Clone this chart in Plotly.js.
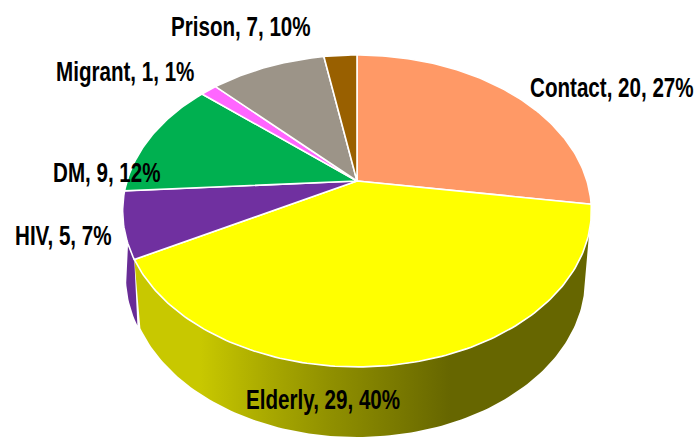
<!DOCTYPE html>
<html><head><meta charset="utf-8">
<script src="https://cdn.plot.ly/plotly-3.0.1.min.js"></script>
<style>html,body{margin:0;padding:0;background:#fff}#c{width:698px;height:438px}</style>
</head><body><div id="c"></div>
<script>
// Data (clockwise from 12 o'clock)
const categories = ["Contact","Elderly","HIV","DM","Migrant","Prison","Other"];
const values = [20,29,5,9,1,7,2];
// Styles
const colors = ["#FF9966","#FFFF00","#7030A0","#00B050","#FF66FF","#9C9488","#996000"];
const purpleWall = "#682C96";
const labelX = [612,323,63,107,125,241,null];
const labelY = [87,399,235,172,71,26,null];
const shadeX = [130,200,270,330,400,450,700];
const shadeV = [200,200,168,144,120,102,102];
// Perspective geometry of the disc
const CX=357, K=0.192;
const TOP={y:181,a:230,b:150.2,cx:CX}, BOT={y:248.6,a:223.7,b:152.2,cx:CX}, BOTL={y:247,a:223.7,b:150.2,cx:CX-3};
const deg=Math.PI/180;
function proj(t,g){const X=Math.sin(t),Y=-Math.cos(t),d=1-K*Y;return [g.cx+g.a*X/d,g.y+g.b*Y/d];}
function arc(t0,t1,g,n){const p=[];for(let i=0;i<=n;i++)p.push(proj(t0+(t1-t0)*i/n,g));return p;}
const total=values.reduce((a,b)=>a+b,0);
let cum=0;const spans=values.map(v=>{const s=cum/total*2*Math.PI;cum+=v;return [s,cum/total*2*Math.PI];});
const traces=[];
function poly(pts,extra){traces.push(Object.assign({type:'scatter',mode:'lines',x:pts.map(p=>p[0]),y:pts.map(p=>p[1]),fill:'toself',hoverinfo:'skip',showlegend:false},extra));}
const lo=shadeX[0],hi=shadeX[shadeX.length-1];
const scale=shadeX.map((x,i)=>[(x-lo)/(hi-lo),`rgb(${shadeV[i]},${shadeV[i]},0)`]);
// Side wall: outline runs tangent from the top rim to the lower rim
const seam=spans[1][1];
poly(arc(seam,275*deg,TOP,30).concat(arc(265*deg,seam,BOTL,20)),{fillcolor:purpleWall,line:{width:0}});
poly(arc(100*deg,seam,TOP,120).concat(arc(seam,107*deg,BOT,120)),
 {fillgradient:{type:'horizontal',start:lo,stop:hi,colorscale:scale},line:{width:0}});
// Top face
spans.forEach((sp,i)=>{const n=Math.max(6,Math.ceil((sp[1]-sp[0])*60));
 const pts=[[CX,TOP.y]].concat(arc(sp[0],sp[1],TOP,n),[[CX,TOP.y]]);
 poly(pts,{fillcolor:colors[i],line:{color:'#ffffff',width:1.6}});});
const annotations=categories.map((c,i)=>labelX[i]===null?null:({
 x:labelX[i],y:labelY[i],xref:'x',yref:'y',showarrow:false,xanchor:'center',yanchor:'middle',
 text:`<b>${c}, ${values[i]}, ${Math.round(values[i]/total*100)}%</b>`,
 font:{family:'"Liberation Sans",sans-serif',size:20.6,color:'#000'}})).filter(Boolean);
Plotly.newPlot('c',traces,{width:698,height:438,margin:{l:0,r:0,t:0,b:0},paper_bgcolor:'#fff',plot_bgcolor:'#fff',showlegend:false,
 xaxis:{range:[0,698],visible:false,fixedrange:true},yaxis:{range:[438,0],visible:false,fixedrange:true},annotations},{staticPlot:true,displayModeBar:false})
.then(gd=>{gd.querySelectorAll('text.annotation-text').forEach(t=>{const b=t.getBBox(),cy=b.y+b.height/2;
 t.setAttribute('transform',`translate(0,${cy}) scale(1,1.33) translate(0,${-cy})`);});});
</script></body></html>
